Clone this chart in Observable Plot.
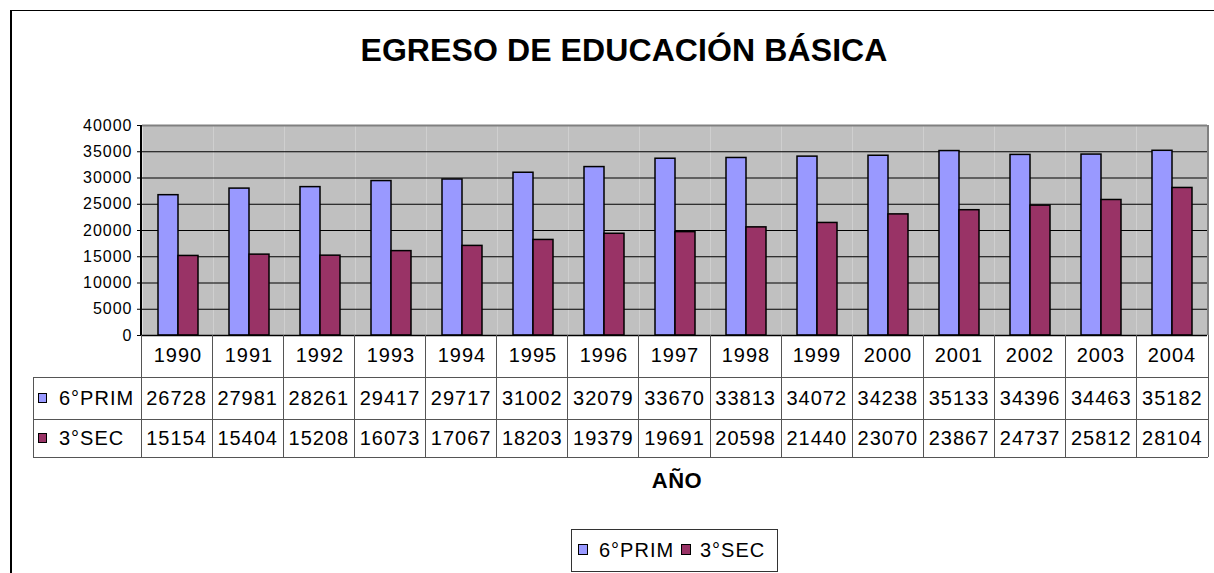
<!DOCTYPE html>
<html>
<head>
<meta charset="utf-8">
<script src="https://cdn.jsdelivr.net/npm/d3@7"></script>
<script src="https://cdn.jsdelivr.net/npm/@observablehq/plot@0.6"></script>
<style>
  html, body { margin: 0; padding: 0; background: #fff; }
  body { font-family: "Liberation Sans", Arial, sans-serif; color: #000; }
  #wrap { position: relative; width: 1214px; height: 573px; overflow: hidden; background: #fff; }
  .abs { position: absolute; }
  #outer { left: 10px; top: 10px; width: 1400px; height: 800px; border-left: 2px solid #000; border-top: 1.5px solid #000; }
  #title { left: 0; width: 1248px; top: 30px; text-align: center; font-weight: bold; font-size: 32px; line-height: 40px; letter-spacing: 0.1px; white-space: nowrap; }
  #xlabel { left: 577px; width: 200px; top: 467px; text-align: center; font-weight: bold; font-size: 22px; line-height: 28px; letter-spacing: 0.6px; }
  #chart { left: 0; top: 0; }
  svg g[aria-label$="tick label"] { letter-spacing: 1px; }
  .hl { height: 1px; background: #555; }
  .vl { width: 1px; background: #555; }
  .cell { font-size: 20px; letter-spacing: 1px; text-align: center; white-space: nowrap; }
  .key { width: 7px; height: 8px; border: 1px solid #000; }
  .lab { font-size: 20px; letter-spacing: 1px; white-space: nowrap; }
  #legend { left: 571px; top: 529px; width: 205px; height: 41px; border: 1px solid #333; }
</style>
</head>
<body>
<div id="wrap">
  <div id="outer" class="abs"></div>
  <div id="title" class="abs">EGRESO DE EDUCACIÓN BÁSICA</div>
  <div id="chart" class="abs"></div>
  <div id="xlabel" class="abs">AÑO</div>
  <div id="legend" class="abs"></div>
</div>
<script>
// ---- data ----
const years = ["1990","1991","1992","1993","1994","1995","1996","1997","1998","1999","2000","2001","2002","2003","2004"];
const series = ["6°PRIM", "3°SEC"];
const prim = [26728, 27981, 28261, 29417, 29717, 31002, 32079, 33670, 33813, 34072, 34238, 35133, 34396, 34463, 35182];
const sec  = [15154, 15404, 15208, 16073, 17067, 18203, 19379, 19691, 20598, 21440, 23070, 23867, 24737, 25812, 28104];
const yTicks = [0, 5000, 10000, 15000, 20000, 25000, 30000, 35000, 40000];
const colors = ["#9999FF", "#993366"];

const values = [prim, sec];
const data = years.flatMap((yr, i) => series.map((s, k) => ({year: yr, series: s, value: values[k][i]})));

// ---- layout ----
const W = 1214, H = 380;
const mL = 141, mR = 6, mT = 125, mB = 45;
const plotRight = W - mR, plotBottom = H - mB;

const chart = Plot.plot({
  width: W, height: H,
  marginTop: mT, marginBottom: mB, marginLeft: mL, marginRight: mR,
  style: {fontFamily: "'Liberation Sans', Arial, sans-serif", background: "transparent", overflow: "visible", color: "#000"},
  fx: {domain: years, padding: 0, label: null},
  x: {domain: series, paddingInner: 0, paddingOuter: 0.75, axis: null},
  y: {domain: [0, 40000], label: null},
  color: {domain: series, range: colors},
  marks: [
    Plot.frame({fill: "#C0C0C0", stroke: "none"}),
    Plot.ruleY(yTicks.filter(d => d > 0 && d < 40000), {stroke: "#000", strokeWidth: 1}),
    Plot.ruleY([40000], {stroke: "#808080", strokeWidth: 2}),
    Plot.barY(data, {fx: "year", x: "series", y: "value", fill: "series", stroke: "#000", strokeWidth: 1.5}),
    Plot.ruleY([0], {stroke: "#000", strokeWidth: 1.5}),
    Plot.axisY({ticks: yTicks, tickFormat: d => String(d), tickSize: 5, tickPadding: 5, fontSize: 16, label: null}),
    Plot.axisFx({anchor: "bottom", tickSize: 0, tickPadding: 12, fontSize: 20, label: null})
  ]
});
document.getElementById("chart").appendChild(chart);

const wrap = document.getElementById("wrap");
function add(cls, styles, text) {
  const d = document.createElement("div");
  d.className = "abs " + cls;
  Object.assign(d.style, styles);
  if (text != null) d.textContent = text;
  wrap.appendChild(d);
  return d;
}

// plot-area border lines (left axis black, right gray)
add("", {left: (mL - 1) + "px", top: mT + "px", width: "2px", height: (plotBottom - mT) + "px", background: "#000"});
add("", {left: (plotRight - 1) + "px", top: mT + "px", width: "2px", height: (plotBottom - mT) + "px", background: "#808080"});

// ---- data table ----
const colW = (plotRight - mL) / years.length;
const tableLeft = 33;
const rowTops = [plotBottom, 377, 419, 457];

// vertical lines
for (let i = 0; i <= years.length; i++) {
  add("vl", {left: (mL + i * colW - 0.5) + "px", top: rowTops[0] + "px", height: (rowTops[3] - rowTops[0]) + "px"});
}
add("vl", {left: tableLeft + "px", top: rowTops[1] + "px", height: (rowTops[3] - rowTops[1]) + "px"});
// horizontal lines
for (let r = 1; r <= 3; r++) {
  add("hl", {left: tableLeft + "px", top: (rowTops[r] - 0.5) + "px", width: (plotRight - tableLeft) + "px"});
}

// series rows
series.forEach((s, k) => {
  const top = rowTops[k + 1], h = rowTops[k + 2] - rowTops[k + 1];
  add("key", {left: "38px", top: (top + h / 2 - 5) + "px", background: colors[k]});
  add("lab", {left: "59px", top: top + "px", height: h + "px", lineHeight: h + "px"}, s);
  values[k].forEach((v, i) => {
    add("cell", {left: (mL + i * colW) + "px", width: colW + "px", top: top + "px", height: h + "px", lineHeight: h + "px"}, String(v));
  });
});

// ---- legend ----
const legend = document.getElementById("legend");
const legItems = [[6, 27], [109, 128]];
series.forEach((s, k) => {
  const key = document.createElement("div");
  key.className = "abs key";
  Object.assign(key.style, {left: legItems[k][0] + "px", top: "14px", width: "8px", height: "9px", background: colors[k]});
  legend.appendChild(key);
  const lab = document.createElement("div");
  lab.className = "abs lab";
  Object.assign(lab.style, {left: legItems[k][1] + "px", top: "0px", lineHeight: "41px"});
  lab.textContent = s;
  legend.appendChild(lab);
});
</script>
</body>
</html>
